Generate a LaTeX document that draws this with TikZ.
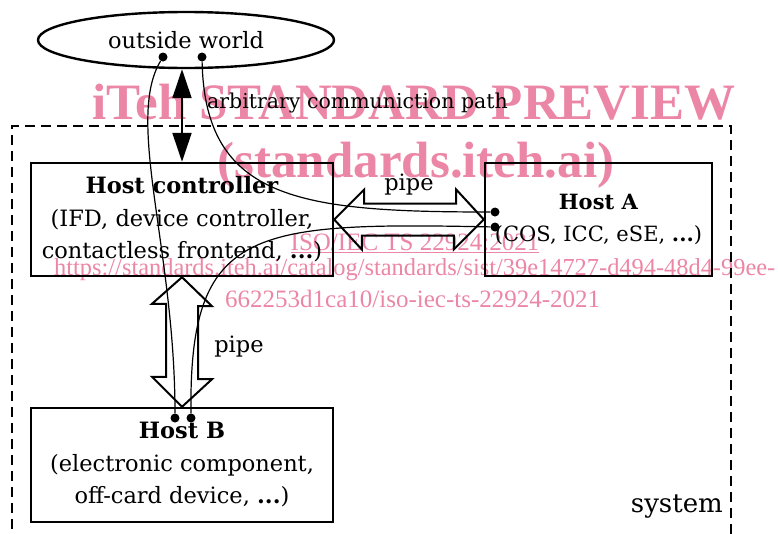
\documentclass[tikz,border=0pt]{standalone}
\usepackage{fontspec}
\usepackage{tikz}
\usetikzlibrary{positioning, shapes.geometric, arrows.meta}
\setmainfont{DejaVu Serif}
\newfontfamily\wmfont{Liberation Serif}
\definecolor{wmpink}{RGB}{236,134,166}
\tikzset {
    >={Triangle[length=29pt,width=19pt]},
    every node/.style={font=\fontsize{22.5}{32.5}\selectfont},
    host/.style={draw, line width=2.4pt, align=center, inner sep=0},
    world/.style={ellipse, draw, line width=2.4pt, minimum width=296pt, minimum height=56pt, inner sep=0},
    dot/.style={circle, fill, inner sep=0, minimum size=9pt},
    link/.style={line width=1.2pt},
    pipe/.style={line width=2pt, line join=miter},
    sysbox/.style={line width=2pt, dash pattern=on 10pt off 6pt},
    wm/.style={text=wmpink, inner sep=0}
}
\begin{document}
\begin{tikzpicture}[x=1pt, y=-1pt]
    \useasboundingbox (0,0) rectangle (778,533);

    % watermark
    \node[wm, anchor=base, font=\wmfont\bfseries\fontsize{51}{51}\selectfont] (wm1) at (414,119) {iTeh STANDARD PREVIEW};
    \node[wm, anchor=base, font=\wmfont\bfseries\fontsize{51}{51}\selectfont] (wm2) at (416,177) {(standards.iteh.ai)};
    \node[wm, anchor=base, font=\wmfont\fontsize{25}{25}\selectfont] (wm3) at (415,250) {\underline{ISO/IEC TS 22924:2021}};
    \node[wm, anchor=base west, font=\wmfont\fontsize{24.4}{24.4}\selectfont] (wm4) at (54,275) {https://standards.iteh.ai/catalog/standards/sist/39e14727-d494-48d4-99ee-};
    \node[wm, anchor=base west, font=\wmfont\fontsize{25}{25}\selectfont] (wm5) at (225,307) {662253d1ca10/iso-iec-ts-22924-2021};

    \draw[sysbox] (12,545) -- (12,126) -- (731,126) -- (731,545);
    \node[anchor=base east, inner sep=0, font=\fontsize{26}{26}\selectfont] (sys) at (723,512) {system};

    \node[world] (ow) at (186,40) {outside world};
    \node[host, minimum width=302pt, minimum height=113pt] (hc) at (182,219.5)
        {\textbf{Host controller}\\(IFD, device controller,\\contactless frontend, \textbf{...})};
    \node[host, minimum width=227pt, minimum height=113pt, font=\fontsize{21}{32.5}\selectfont] (ha) at (598.5,219.5)
        {\textbf{Host A}\\(COS, ICC, eSE, \textbf{...})};
    \node[host, minimum width=302pt, minimum height=114pt] (hb) at (182,465)
        {\textbf{Host B}\\(electronic component,\\off-card device, \textbf{...})};

    \draw[<->, line width=2pt] (hc.north |- ow.south) -- (hc.north);
    \node[anchor=base west, inner sep=0, font=\fontsize{20.5}{20.5}\selectfont] (acp) at (207,108) {arbitrary communiction path};

    % pipes
    \draw[pipe] (hc.east) -- ++(30,-30) -- ++(0,14) -- ++(92,0) -- ++(0,-14) -- (ha.west)
        -- ++(-30,30) -- ++(0,-14) -- ++(-92,0) -- ++(0,14) -- cycle;
    \node[anchor=base, inner sep=0] (p1) at (409,190) {pipe};
    \draw[pipe] (hc.south) -- ++(30,29) -- ++(-14,0) -- ++(0,73) -- ++(14,0) -- (hb.north)
        -- ++(-30,-30) -- ++(14,0) -- ++(0,-73) -- ++(-14,0) -- cycle;
    \node[anchor=base, inner sep=0] (p2) at (239,352) {pipe};

    % end points
    \node[dot] (w1) at (163,57) {};
    \node[dot] (w2) at (202,57) {};
    \node[dot] (a1) at (495,212) {};
    \node[dot] (a2) at (495,227) {};
    \node[dot] (b1) at (175,418) {};
    \node[dot] (b2) at (191,418) {};

    \draw[link] (w1) .. controls +(-38,63) and +(0,-168) .. (b1);
    \draw[link] (w2) .. controls +(3,143) and +(-195,0) .. (a1);
    \draw[link] (a2) .. controls +(-245,-5) and +(-2,-190) .. (b2);
\end{tikzpicture}
\end{document}
